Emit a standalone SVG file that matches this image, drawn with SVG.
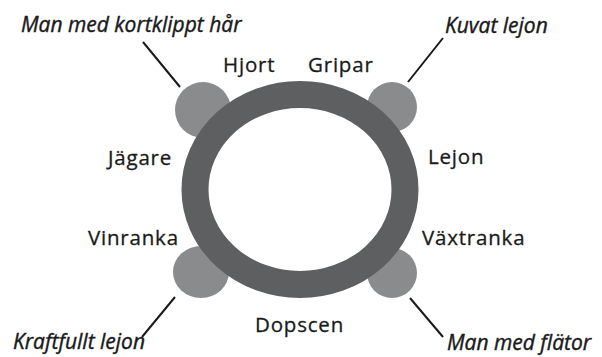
<svg xmlns="http://www.w3.org/2000/svg" width="602" height="357" viewBox="0 0 602 357">
<style>
.lbl{font-family:"Open Sans","Liberation Sans",sans-serif;font-size:20.5px;fill:#1a1a1a;letter-spacing:0.8px;stroke:#1a1a1a;stroke-width:0.3px}
.it{font-family:"Open Sans","Liberation Sans",sans-serif;font-size:21px;font-style:italic;fill:#1a1a1a;stroke:#1a1a1a;stroke-width:0.4px}
.blob{fill:#8a8b8c}
.lead{stroke:#1a1a1a;stroke-width:2;fill:none}
</style>
<rect width="602" height="357" fill="#ffffff"/>
<g id="blob-tl"><ellipse class="blob" cx="203" cy="110" rx="28" ry="28"/></g>
<g id="blob-tr"><ellipse class="blob" cx="392" cy="107" rx="25" ry="25"/></g>
<g id="blob-bl"><ellipse class="blob" cx="201" cy="272" rx="28" ry="26"/></g>
<g id="blob-br"><ellipse class="blob" cx="392" cy="273" rx="25" ry="25"/></g>
<g id="ring"><ellipse cx="300" cy="189.5" rx="105" ry="95" fill="none" stroke="#5e5f61" stroke-width="27"/></g>
<g id="connectors">
<line class="lead" x1="143" y1="42" x2="180" y2="87"/>
<line class="lead" x1="443" y1="38" x2="408" y2="82"/>
<line class="lead" x1="175" y1="297" x2="142" y2="337"/>
<line class="lead" x1="410" y1="298" x2="443" y2="337"/>
</g>
<g id="hjort"><text class="lbl" x="223" y="72">Hjort</text></g>
<g id="gripar"><text class="lbl" x="308" y="72">Gripar</text></g>
<g id="jagare"><text class="lbl" x="108" y="165">Jägare</text></g>
<g id="lejon"><text class="lbl" x="428" y="164">Lejon</text></g>
<g id="vinranka"><text class="lbl" x="88" y="245">Vinranka</text></g>
<g id="vaxtranka"><text class="lbl" x="422" y="245">Växtranka</text></g>
<g id="dopscen"><text class="lbl" x="255" y="332">Dopscen</text></g>
<g id="man-kort"><text class="it" x="21" y="32">Man med kortklippt hår</text></g>
<g id="kuvat"><text class="it" x="445" y="33">Kuvat lejon</text></g>
<g id="kraftfullt"><text class="it" x="13" y="349">Kraftfullt lejon</text></g>
<g id="man-flator"><text class="it" x="447" y="350">Man med flätor</text></g>
</svg>
